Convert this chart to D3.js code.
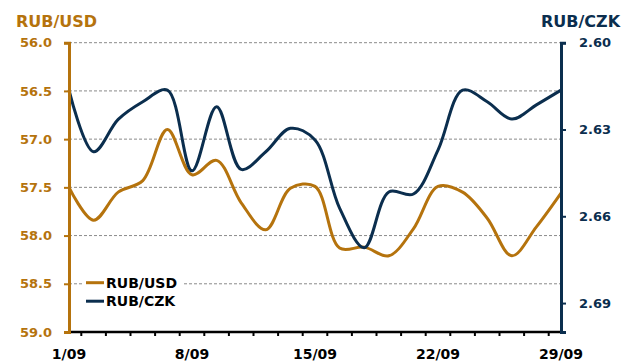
<!DOCTYPE html>
<html>
<head>
<meta charset="utf-8">
<script src="https://cdn.jsdelivr.net/npm/d3@7"></script>
<style>
  html, body { margin: 0; padding: 0; background: #fff; }
  svg { display: block; font-family: "DejaVu Sans", Verdana, sans-serif; font-weight: bold; }
</style>
</head>
<body>
<svg id="chart" width="625" height="363"></svg>
<script>
// Trading days of September
const days = ["1/09","2/09","3/09","4/09","5/09","8/09","9/09","10/09","11/09","12/09",
              "15/09","16/09","17/09","18/09","19/09","22/09","23/09","24/09","25/09","26/09","29/09"];
const labelDays = ["1/09","8/09","15/09","22/09","29/09"];

// RUB per USD (left axis, inverted)
const rubUsd = [57.50, 57.84, 57.55, 57.43, 56.90, 57.37, 57.22, 57.66, 57.94, 57.51,
                57.49, 58.13, 58.12, 58.21, 57.93, 57.49, 57.55, 57.82, 58.21, 57.91, 57.56];
// RUB per CZK (right axis, inverted)
const rubCzk = [2.6164, 2.6377, 2.6265, 2.6204, 2.6164, 2.6443, 2.6221, 2.6438, 2.6377, 2.6296,
                2.6336, 2.6572, 2.6709, 2.6516, 2.6523, 2.6371, 2.6164, 2.6204, 2.6264, 2.6215, 2.6164];

const leftTicks = [56.0, 56.5, 57.0, 57.5, 58.0, 58.5, 59.0];
const rightTicks = [2.60, 2.63, 2.66, 2.69];

const ORANGE = "#B5730D";
const NAVY = "#0B2E4E";

const W = 625, H = 363;
const m = { top: 42.7, right: 64, bottom: 31, left: 69 };
const svg = d3.select("#chart");

const x = d3.scalePoint().domain(days).range([m.left, W - m.right]);
const yL = d3.scaleLinear().domain([56, 59]).range([m.top, H - m.bottom]);
const yR = d3.scaleLinear().domain([2.60, 2.70]).range([m.top, H - m.bottom]);

// horizontal dashed gridlines
svg.append("g").selectAll("line")
  .data(leftTicks.slice(0, -1))
  .join("line")
  .attr("x1", m.left).attr("x2", W - m.right)
  .attr("y1", d => yL(d)).attr("y2", d => yL(d))
  .attr("stroke", "#8a8a8a").attr("stroke-width", 1)
  .attr("stroke-dasharray", "3,2");

// series lines
const curve = d3.curveCatmullRom.alpha(0.5);
const lineUsd = d3.line().x((d, i) => x(days[i])).y(d => yL(d)).curve(curve);
const lineCzk = d3.line().x((d, i) => x(days[i])).y(d => yR(d)).curve(curve);

svg.append("path").datum(rubUsd).attr("d", lineUsd)
  .attr("fill", "none").attr("stroke", ORANGE).attr("stroke-width", 3).attr("stroke-linejoin", "round");
svg.append("path").datum(rubCzk).attr("d", lineCzk)
  .attr("fill", "none").attr("stroke", NAVY).attr("stroke-width", 3).attr("stroke-linejoin", "round");

// x axis: baseline, ticks between days, labels weekly
const step = x.step();
const gx = svg.append("g");
gx.selectAll("line.tick")
  .data(days.slice(0, -1))
  .join("line")
  .attr("x1", d => x(d) + step / 2).attr("x2", d => x(d) + step / 2)
  .attr("y1", H - m.bottom).attr("y2", H - m.bottom + 4)
  .attr("stroke", "#000").attr("stroke-width", 2);
gx.append("line")
  .attr("x1", m.left).attr("x2", W - m.right)
  .attr("y1", H - m.bottom).attr("y2", H - m.bottom)
  .attr("stroke", "#000").attr("stroke-width", 2.5);
gx.selectAll("text")
  .data(labelDays)
  .join("text")
  .attr("x", d => x(d)).attr("y", 359)
  .attr("text-anchor", "middle")
  .attr("font-size", 14).attr("fill", "#000")
  .text(d => d);

// left axis
const axL = d3.axisLeft(yL).tickValues(leftTicks).tickFormat(d3.format(".1f")).tickSize(5).tickPadding(12);
const gL = svg.append("g").attr("transform", `translate(${m.left},0)`).call(axL);
gL.select(".domain").attr("stroke", ORANGE).attr("stroke-width", 3);
gL.selectAll(".tick line").attr("stroke", ORANGE).attr("stroke-width", 2);
gL.selectAll(".tick text").attr("fill", ORANGE).attr("font-size", 13)
  .attr("font-family", "'DejaVu Sans', Verdana, sans-serif").attr("font-weight", "bold");

// right axis
const axR = d3.axisRight(yR).tickValues(rightTicks).tickFormat(d3.format(".2f")).tickSize(5).tickPadding(13);
const gR = svg.append("g").attr("transform", `translate(${W - m.right},0)`).call(axR);
gR.select(".domain").attr("stroke", NAVY).attr("stroke-width", 3);
gR.selectAll(".tick line").attr("stroke", NAVY).attr("stroke-width", 2);
gR.selectAll(".tick text").attr("fill", NAVY).attr("font-size", 13)
  .attr("font-family", "'DejaVu Sans', Verdana, sans-serif").attr("font-weight", "bold");

// axis titles
svg.append("text").attr("x", 16).attr("y", 26.5).attr("font-size", 16).attr("fill", ORANGE).text("RUB/USD");
svg.append("text").attr("x", 541).attr("y", 26.5).attr("font-size", 16).attr("fill", NAVY).text("RUB/CZK");

// legend
const legend = [{ name: "RUB/USD", color: ORANGE }, { name: "RUB/CZK", color: NAVY }];
svg.append("rect").attr("x", 84).attr("y", 274).attr("width", 98).attr("height", 36).attr("fill", "#fff");
const lg = svg.append("g").selectAll("g").data(legend).join("g")
  .attr("transform", (d, i) => `translate(86,${282.7 + i * 18.5})`);
lg.append("line").attr("x1", 0).attr("x2", 18).attr("stroke", d => d.color).attr("stroke-width", 3);
lg.append("text").attr("x", 20).attr("y", 5).attr("font-size", 14).attr("fill", "#000").text(d => d.name);
</script>
</body>
</html>
